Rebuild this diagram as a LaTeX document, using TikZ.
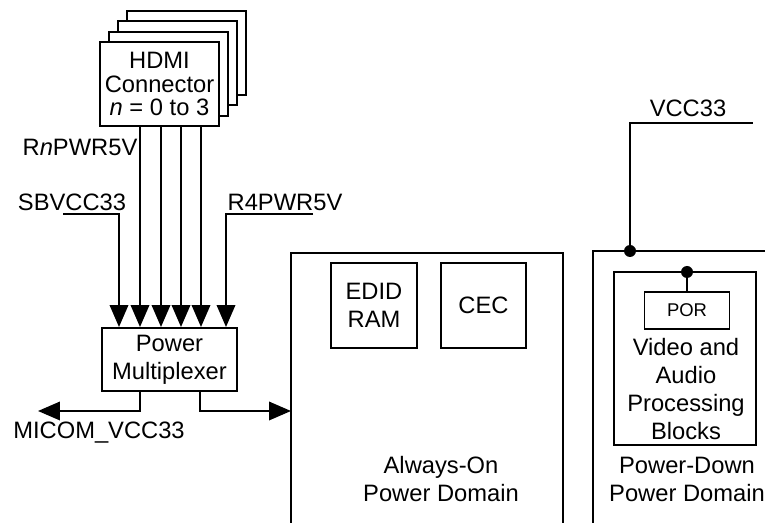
\documentclass[tikz,border=0pt]{standalone}
\usepackage{fontspec}
\setmainfont{Liberation Sans}
\usetikzlibrary{arrows.meta}
\tikzset{
  blk/.style={draw, fill=white, inner sep=0pt, align=center},
  lbl/.style={inner sep=0pt, align=center},
  pwr/.style={-{Triangle[width=0.37cm,length=0.44cm]}},
  junc/.style={circle, fill, inner sep=0pt, minimum size=0.24cm},
}
\begin{document}
\begin{tikzpicture}[x=0.02cm, y=-0.02cm, line width=1.1pt, font=\fontsize{13.5}{15.9}\selectfont]
    \useasboundingbox (0,0) rectangle (765,523);

    % stacked HDMI connectors, back to front
    \foreach \i in {3,2,1}
        \node[blk, minimum width=2.38cm, minimum height=1.68cm] (hdmi\i) at (159.5+9*\i, 84-10.3*\i) {};
    \node[blk, minimum width=2.38cm, minimum height=1.68cm, font=\fontsize{13.5}{13.6}\selectfont] (hdmi) at (159.5,84) {HDMI\\Connector\\\textit{n} = 0 to 3};

    \node[blk, minimum width=2.7cm, minimum height=1.26cm] (mux) at (169.5,359.5) {Power\\Multiplexer};

    % supply inputs to the multiplexer
    \foreach \x in {140,161,181,201}
        \draw[pwr] (\x,0 |- hdmi.south) -- (\x,0 |- mux.north);

    \coordinate (sb) at (63,214);
    \draw[pwr] (sb) -| (119,0 |- mux.north);
    \coordinate (r4) at (313,214);
    \draw[pwr] (r4) -| (226,0 |- mux.north);

    \node[lbl] (rnl) at (80,147) {R\textit{n}PWR5V};
    \node[lbl] (sbl) at (72,202) {SBVCC33};
    \node[lbl] (r4l) at (285,202) {R4PWR5V};

    % multiplexer outputs
    \coordinate (micom) at (38,411);
    \draw[pwr] (140,0 |- mux.south) |- (micom);
    \node[lbl] (micoml) at (99,433) {MICOM\_VCC33};
    \coordinate (aonin) at (291,411);
    \draw[pwr] (200,0 |- mux.south) |- (aonin);

    % always-on domain
    \draw (291,523) -- (291,253) -- (563,253) -- (563,523);
    \node[blk, minimum width=1.72cm, minimum height=1.7cm] (edid) at (374,305.5) {EDID\\RAM};
    \node[blk, minimum width=1.7cm, minimum height=1.7cm] (cec) at (483.5,305.5) {CEC};
    \node[lbl] (aonl) at (441,479) {Always-On\\Power Domain};

    % power-down domain
    \draw (593,523) -- (593,251) -- (765,251);
    \node[junc] (j1) at (630,251) {};
    \coordinate (vcc) at (753,123);
    \draw (j1.center) |- (vcc);
    \node[lbl] (vccl) at (688,108) {VCC33};

    \node[blk, minimum width=2.84cm, minimum height=3.46cm] (vap) at (685,358.5) {};
    \node[junc] (j2) at (687,272) {};
    \node[blk, minimum width=1.7cm, minimum height=0.74cm, font=\fontsize{10.5}{12}\selectfont] (por) at (687,310.5) {POR};
    \draw (j2.center) -- (j2.center |- por.north);
    \node[lbl] (vapl) at (686,389) {Video and\\Audio\\Processing\\Blocks};
    \node[lbl] (pdl) at (687,479) {Power-Down\\Power Domain};
\end{tikzpicture}
\end{document}
